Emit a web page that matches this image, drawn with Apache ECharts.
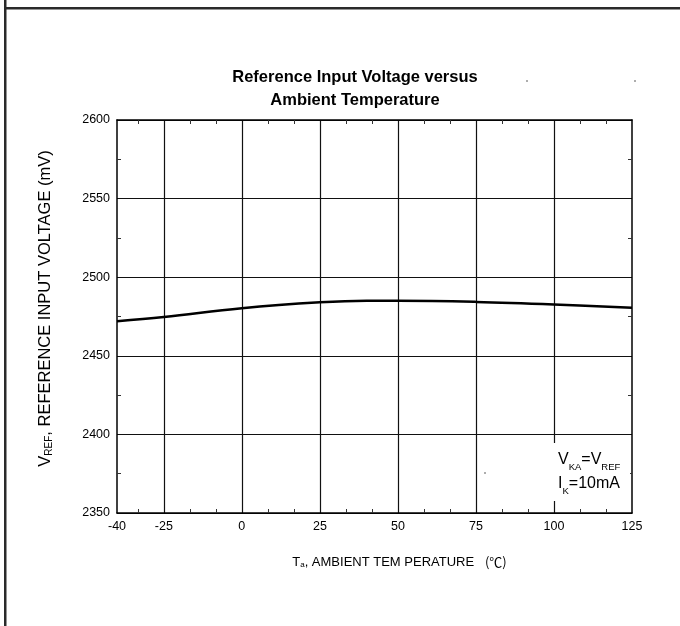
<!DOCTYPE html>
<html>
<head>
<meta charset="utf-8">
<script src="https://cdn.jsdelivr.net/npm/echarts@6/dist/echarts.min.js"></script>
<style>
html,body{margin:0;padding:0;background:#fff;}
#chart{width:680px;height:626px;}
</style>
</head>
<body>
<div id="chart"></div>
<script>
// ---- data ----
var temperature = [-40, -25, 0, 25, 40, 50, 75, 100, 125];
var vref = [2472, 2474.7, 2480.3, 2484, 2485, 2485, 2484.3, 2482.7, 2480.5];
var xTickLabels = [-40, -25, 0, 25, 50, 75, 100, 125];
var xGridValues = [-25, 0, 25, 50, 75, 100];
var xMinorTicks = [-33.33, -16.67, -8.33, 8.33, 16.67, 33.33, 41.67, 58.33, 66.67, 83.33, 91.67, 108.33, 116.67];
var yMin = 2350, yMax = 2600, yStep = 50;
var xMin = -40, xMax = 125;

var FONT = '"Liberation Sans", Arial, sans-serif';
var CJK = '"Noto Sans CJK SC", "Noto Sans CJK JP", sans-serif';
var chart = echarts.init(document.getElementById('chart'), null, {renderer: 'canvas'});

var data = temperature.map(function (t, i) { return [t, vref[i]]; });

var option = {
  animation: false,
  backgroundColor: '#fff',
  textStyle: {fontFamily: FONT, color: '#000'},
  grid: {left: 117, right: 48, top: 120, bottom: 113, containLabel: false},
  xAxis: [
    {
      type: 'value', min: xMin, max: xMax, position: 'bottom',
      axisLine: {show: true, onZero: false, lineStyle: {color: '#000', width: 1.5}},
      axisTick: {show: false, customValues: xGridValues},
      axisLabel: {customValues: xTickLabels, color: '#000', fontSize: 12.5, fontFamily: FONT, margin: 7},
      splitLine: {show: true, lineStyle: {color: '#111', width: 1.2}},
      name: 'T{s|a}, AMBIENT TEM PERATURE   {c|(℃)}',
      nameLocation: 'middle', nameGap: 42,
      nameTextStyle: {fontSize: 13, fontFamily: FONT, color: '#000', padding: [0, 0, 0, 50],
        rich: {
          s: {fontSize: 8, fontFamily: FONT, verticalAlign: 'bottom', padding: [6, 0, 0, 0]},
          c: {fontSize: 13, fontFamily: CJK, color: '#000'}
        }}
    },
    {
      type: 'value', min: xMin, max: xMax, position: 'bottom',
      axisLine: {show: false},
      axisTick: {show: true, inside: true, length: 4, customValues: xMinorTicks, lineStyle: {color: '#333', width: 1}},
      axisLabel: {show: false}, splitLine: {show: false}
    },
    {
      type: 'value', min: xMin, max: xMax, position: 'top',
      axisLine: {show: true, onZero: false, lineStyle: {color: '#000', width: 1.5}},
      axisTick: {show: true, inside: true, length: 4, customValues: xMinorTicks, lineStyle: {color: '#333', width: 1}},
      axisLabel: {show: false}, splitLine: {show: false}
    }
  ],
  yAxis: [
    {
      type: 'value', min: yMin, max: yMax, interval: yStep, position: 'left',
      axisLine: {show: true, onZero: false, lineStyle: {color: '#000', width: 1.5}},
      axisTick: {show: false, inside: true},
      minorTick: {show: true, splitNumber: 2, length: 4, lineStyle: {color: '#333', width: 1}},
      axisLabel: {color: '#000', fontSize: 12.5, fontFamily: FONT, margin: 7,
        formatter: function (v) { return String(v); }},
      splitLine: {show: true, lineStyle: {color: '#111', width: 1.2}},
      name: 'V{s|REF}, REFERENCE INPUT VOLTAGE (mV)',
      nameLocation: 'middle', nameGap: 63,
      nameTextStyle: {fontSize: 16.5, fontFamily: FONT, color: '#000', padding: [0, 0, 0, 16],
        rich: {s: {fontSize: 10, fontFamily: FONT, verticalAlign: 'bottom', padding: [8, 0, 0, 0]}}}
    },
    {
      type: 'value', min: yMin, max: yMax, interval: yStep, position: 'right',
      axisLine: {show: true, onZero: false, lineStyle: {color: '#000', width: 1.5}},
      axisTick: {show: false, inside: true},
      minorTick: {show: true, splitNumber: 2, length: 4, lineStyle: {color: '#333', width: 1}},
      axisLabel: {show: false}, splitLine: {show: false}
    }
  ],
  series: [{
    type: 'line', xAxisIndex: 0, yAxisIndex: 0,
    data: data, smooth: 0.4, symbol: 'none',
    lineStyle: {color: '#000', width: 2.5}, z: 5
  }],
  graphic: [
    {type: 'rect', shape: {x: 4, y: 0, width: 2.5, height: 626}, style: {fill: '#2a2a2a'}, z: 100},
    {type: 'rect', shape: {x: 4, y: 7, width: 676, height: 2.5}, style: {fill: '#2a2a2a'}, z: 100},
    {type: 'text', style: {
      text: 'Reference Input Voltage versus\nAmbient Temperature',
      x: 355, y: 66, align: 'center', verticalAlign: 'top',
      font: 'bold 16.5px ' + FONT, fill: '#000', lineHeight: 23}},
    {type: 'rect', shape: {x: 553, y: 443, width: 77, height: 58}, style: {fill: '#fff'}, z: 50},
    {type: 'text', z: 51, style: {
      text: 'V{s|KA}=V{s|REF}\nI{s|K}=10mA', x: 558, y: 448,
      fontSize: 16, fontFamily: FONT, fill: '#000', lineHeight: 24,
      rich: {s: {fontSize: 9.5, fontFamily: FONT, verticalAlign: 'bottom', padding: [8, 0, 0, 0], lineHeight: 24}}}},
    {type: 'circle', shape: {cx: 485, cy: 473, r: 0.8}, style: {fill: '#444'}, z: 51},
    {type: 'circle', shape: {cx: 527, cy: 81, r: 0.8}, style: {fill: '#444'}, z: 51},
    {type: 'circle', shape: {cx: 635, cy: 81, r: 0.8}, style: {fill: '#444'}, z: 51}
  ]
};
chart.setOption(option);
</script>
</body>
</html>
